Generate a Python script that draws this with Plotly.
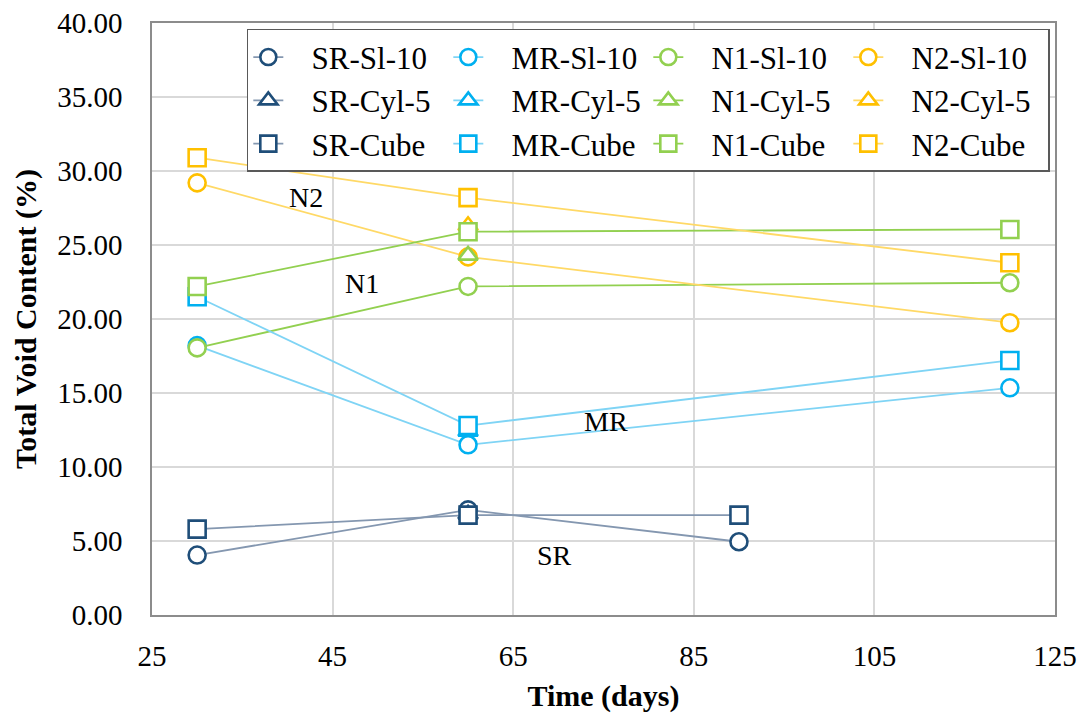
import plotly.graph_objects as go

# Total void content (%) over curing time (days)
days_sr = [30, 60, 90]
days_other = [30, 60, 120]
days_cyl = [60]

sr_sl10 = [4.05, 7.1, 4.95]
sr_cyl5 = [6.8]
sr_cube = [5.8, 6.75, 6.75]

mr_sl10 = [18.2, 11.5, 15.35]
mr_cyl5 = [12.4]
mr_cube = [21.5, 12.8, 17.2]

n1_sl10 = [18.05, 22.2, 22.45]
n1_cyl5 = [24.3]
n1_cube = [22.2, 25.9, 26.05]

n2_sl10 = [29.2, 24.2, 19.75]
n2_cyl5 = [26.3]
n2_cube = [30.9, 28.2, 23.8]

group_labels = ["N2", "N1", "MR", "SR"]
label_x = [42.0, 48.3, 75.3, 69.6]
label_y = [28.2, 22.4, 13.1, 4.0]

y_ticks = [0, 5, 10, 15, 20, 25, 30, 35, 40]
x_ticks = [25, 45, 65, 85, 105, 125]

# marker edge colour, connecting line colour
groups = {
    "SR": ("#1F4E79", "#8497B0"),
    "MR": ("#00B0F0", "#7FD4F5"),
    "N1": ("#92D050", "#92D050"),
    "N2": ("#FFC000", "#FFD966"),
}

series = [
    ("SR-Sl-10", "SR", days_sr, sr_sl10, "circle"),
    ("MR-Sl-10", "MR", days_other, mr_sl10, "circle"),
    ("N1-Sl-10", "N1", days_other, n1_sl10, "circle"),
    ("N2-Sl-10", "N2", days_other, n2_sl10, "circle"),
    ("SR-Cyl-5", "SR", days_cyl, sr_cyl5, "triangle-up"),
    ("MR-Cyl-5", "MR", days_cyl, mr_cyl5, "triangle-up"),
    ("N1-Cyl-5", "N1", days_cyl, n1_cyl5, "triangle-up"),
    ("N2-Cyl-5", "N2", days_cyl, n2_cyl5, "triangle-up"),
    ("SR-Cube", "SR", days_sr, sr_cube, "square"),
    ("MR-Cube", "MR", days_other, mr_cube, "square"),
    ("N1-Cube", "N1", days_other, n1_cube, "square"),
    ("N2-Cube", "N2", days_other, n2_cube, "square"),
]

FONT = "Liberation Serif"
PAD = "\u00a0\u00a0\u00a0"  # extra gap between legend symbol and label

fig = go.Figure()
for rank, (name, grp, xs, ys, sym) in enumerate(series):
    edge, line = groups[grp]
    fig.add_trace(go.Scatter(
        x=xs, y=ys, name=PAD + name, mode="lines+markers",
        line=dict(color=line, width=1.8),
        marker=dict(symbol=sym, size=17, color="white",
                    line=dict(color=edge, width=2.6)),
        legendrank=rank + 1,
    ))

for txt, lx, ly in zip(group_labels, label_x, label_y):
    fig.add_annotation(x=lx, y=ly, text=txt, showarrow=False,
                       font=dict(family=FONT, size=28, color="black"))

fig.update_layout(
    width=1082, height=715,
    margin=dict(l=152, r=27, t=23, b=100, autoexpand=False),
    paper_bgcolor="white", plot_bgcolor="white",
    font=dict(family=FONT, size=28, color="black"),
    showlegend=True,
    legend=dict(
        orientation="h", x=0.105, y=0.99, xanchor="left", yanchor="top",
        bgcolor="white", bordercolor="#595959", borderwidth=1.5,
        font=dict(family=FONT, size=31, color="black"),
        entrywidth=155, entrywidthmode="pixels", itemsizing="trace",
        traceorder="normal",
    ),
)

fig.update_xaxes(
    range=[25, 125], tickvals=x_ticks, showgrid=True,
    gridcolor="#D9D9D9", gridwidth=2, zeroline=False,
    showline=True, linecolor="#8C8C8C", linewidth=1.5, mirror=True,
    ticks="", ticklabelstandoff=14,
    tickfont=dict(family=FONT, size=29, color="black"),
    title=dict(text="<b>Time (days)</b>", standoff=14,
               font=dict(family=FONT, size=30, color="black")),
)
fig.update_yaxes(
    range=[0, 40], tickvals=y_ticks, tickformat=".2f", showgrid=True,
    gridcolor="#D9D9D9", gridwidth=2, zeroline=False,
    showline=True, linecolor="#8C8C8C", linewidth=1.5, mirror=True,
    ticks="", ticklabelstandoff=22,
    tickfont=dict(family=FONT, size=29, color="black"),
    title=dict(text="<b>Total Void Content (%)</b>", standoff=12,
               font=dict(family=FONT, size=30, color="black")),
)

fig.write_html("out.html")
